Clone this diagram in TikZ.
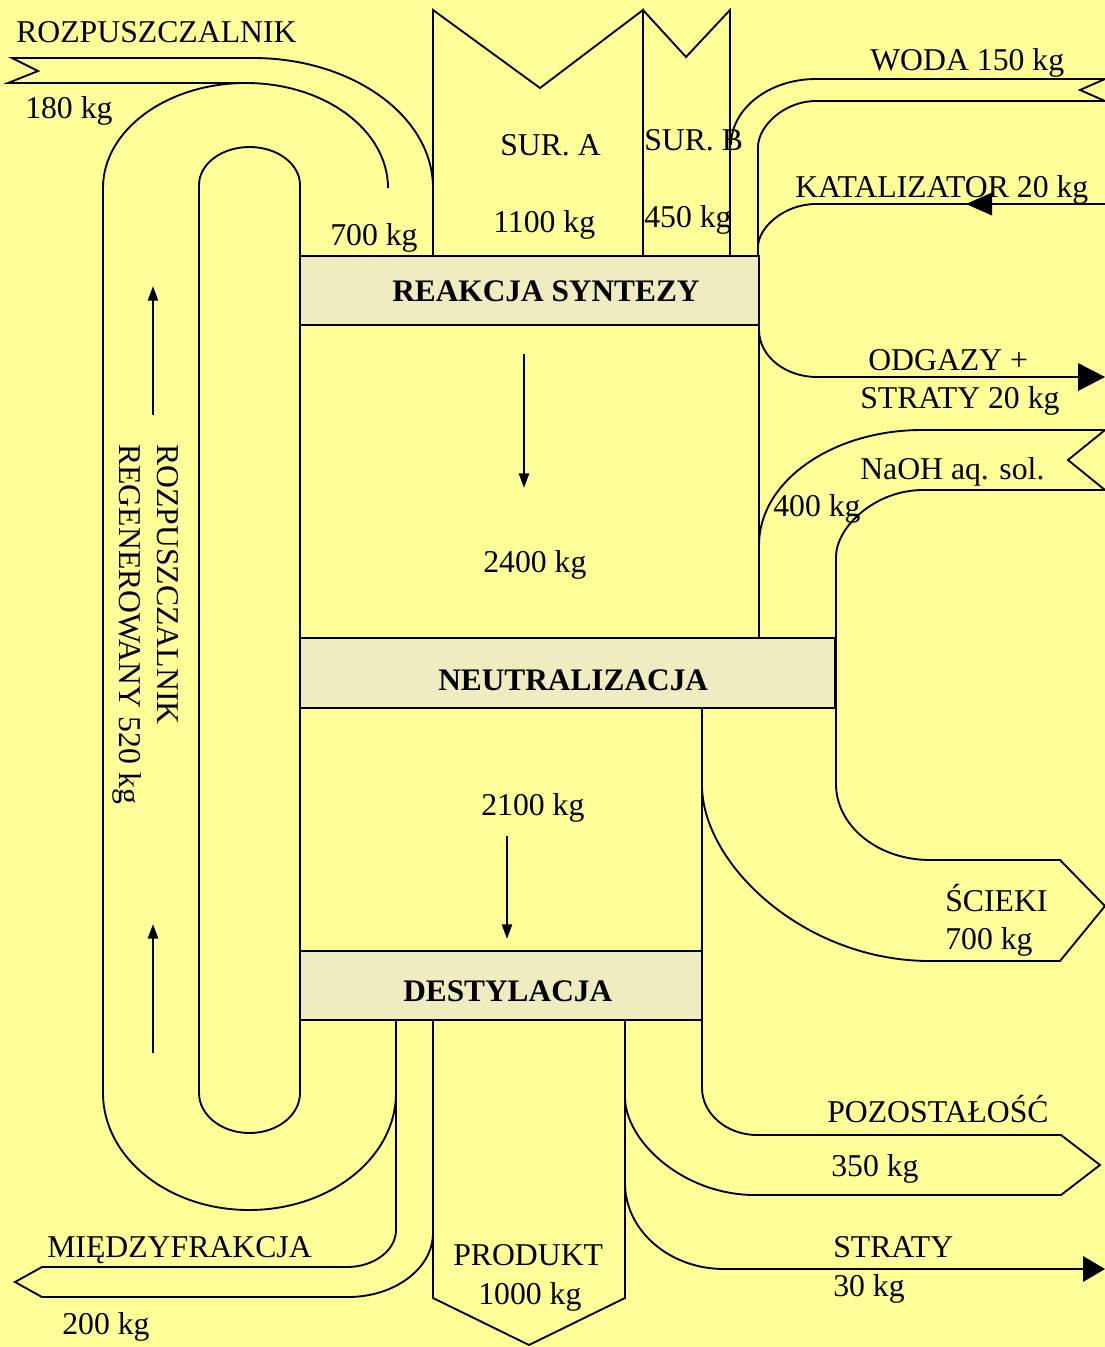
\documentclass[tikz,border=0pt]{standalone}
\usepackage{fontspec}
\setmainfont{Liberation Serif}
\usetikzlibrary{arrows.meta}
\definecolor{bg}{RGB}{255,255,153}
\definecolor{boxfill}{RGB}{238,236,192}
\begin{document}
\begin{tikzpicture}[x=0.75pt,y=-0.75pt,
  flow/.style={line width=1.4pt, line join=miter},
  procbox/.style={draw, line width=1.2pt, fill=boxfill},
  lbl/.style={anchor=base west, inner sep=0pt, font=\fontsize{23.8}{28}\selectfont},
  blbl/.style={anchor=base west, inner sep=0pt, font=\fontsize{23.5}{28}\selectfont\bfseries},
  dirarrow/.style={line width=1.9pt, -{Triangle[length=11pt,width=7.5pt]}},
  tipfill/.style={fill=black}
]
\useasboundingbox (0,0) rectangle (1105,1347);
\fill[bg] (0,0) rectangle (1105,1347);

% regenerated solvent loop (outer)
\draw[flow] (388,188) .. controls (388,130) and (324.4,83) .. (246,83) .. controls (167.1,83) and (103,130) .. (103,188) -- (103,1093) .. controls (103,1157.6) and (168.4,1210) .. (249,1210) .. controls (330.1,1210) and (396,1157.6) .. (396,1093);
% miedzyfrakcja
\draw[flow] (396,1020) -- (396,1230) .. controls (396,1250.4) and (374,1267) .. (347,1267) -- (42,1267) -- (15,1282) -- (42,1297) -- (348,1297) .. controls (394.9,1297) and (433,1268.3) .. (433,1233);
% inner U
\draw[flow] (300,1020) -- (300,1093) .. controls (300,1115.1) and (277.4,1133) .. (249.5,1133) .. controls (221.6,1133) and (199,1115.1) .. (199,1093) -- (199,185) .. controls (199,164) and (221.6,147) .. (249.5,147) .. controls (277.4,147) and (300,164) .. (300,185) -- (300,1020);
% rozpuszczalnik input
\draw[flow] (433,188) .. controls (433,116.2) and (352.4,58) .. (253,58) -- (12,58) -- (38,71) -- (8,83) -- (246,83);
% SUR A, SUR B
\draw[flow] (433,256) -- (433,10) -- (540,88) -- (643,10) -- (643,256);
\draw[flow] (643,10) -- (686,57) -- (730,10) -- (730,256);
% WODA
\draw[flow] (731,145) .. controls (731,108.6) and (769.1,79) .. (816,79) -- (1105,79) -- (1080,90) -- (1105,101) -- (816,101) .. controls (784,101) and (758,126.4) .. (758,147) -- (758,256);
% KATALIZATOR
\draw[flow] (1105,204) -- (816,204) .. controls (784,204) and (758,227.7) .. (758,247);
\fill[tipfill] (966,204) -- (992,192.5) -- (992,215.5) -- cycle;
% ODGAZY
\draw[flow] (759,325) -- (759,330) .. controls (759,356) and (785,377) .. (817,377) -- (1080,377);
\fill[tipfill] (1105,377) -- (1078,363) -- (1078,391) -- cycle;
% right side of 2400 flow and NaOH / SCIEKI
\draw[flow] (759,325) -- (759,638);
\draw[flow] (759,545) .. controls (759,481.5) and (832,430) .. (922,430) -- (1105,430) -- (1068,460) -- (1105,490) -- (923,490) .. controls (875,490) and (836,527) .. (836,557) -- (836,784) .. controls (836,826) and (878,860) .. (930,860) -- (1060,860) -- (1105,906) -- (1060,961) -- (930,961) .. controls (804,961) and (702,864) .. (702,785);
% POZOSTALOSC
\draw[flow] (702,708) -- (702,1088) .. controls (702,1114) and (727,1135) .. (757,1135) -- (1061,1135) -- (1100,1165) -- (1061,1195) -- (755,1195) .. controls (683,1195) and (625,1141) .. (625,1097);
% PRODUKT
\draw[flow] (625,1020) -- (625,1298) -- (529,1345) -- (433,1298) -- (433,1020);
% STRATY
\draw[flow] (625,1183) .. controls (625,1230.5) and (669.4,1269) .. (724,1269) -- (1083,1269);
\fill[tipfill] (1105,1269) -- (1083,1256) -- (1083,1282) -- cycle;

% process boxes
\draw[procbox] (300,256) rectangle (759,325);
\draw[procbox] (300,638) rectangle (835,708);
\draw[procbox] (300,951) rectangle (702,1020);

% direction arrows
\draw[dirarrow] (524,354) -- (524,488);
\draw[dirarrow] (507,836) -- (507,939);
\draw[dirarrow] (153,415) -- (153,286);
\draw[dirarrow] (153,1053) -- (153,924);

% labels
\node[blbl] (reak) at (392,301) {REAKCJA SYNTEZY};
\node[blbl] (neut) at (438,690) {NEUTRALIZACJA};
\node[blbl] (dest) at (403,1001) {DESTYLACJA};

\node[lbl] (rozp) at (16,42) {ROZPUSZCZALNIK};
\node[lbl] (r180) at (25,118) {180 kg};
\node[lbl] (r700) at (330,245) {700 kg};
\node[lbl] (sura) at (500,155) {SUR. A};
\node[lbl] (a1100) at (493,232) {1100 kg};
\node[lbl] (surb) at (644,150) {SUR. B};
\node[lbl] (b450) at (644,227) {450 kg};
\node[lbl] (woda) at (870,70) {WODA 150 kg};
\node[lbl] (kat) at (795,197) {KATALIZATOR 20 kg};
\node[lbl] (odg1) at (868,370) {ODGAZY +};
\node[lbl] (odg2) at (860,408) {STRATY 20 kg};
\node[lbl] (naoh) at (860,479) {NaOH aq. sol.};
\node[lbl] (n400) at (773,516) {400 kg};
\node[lbl] (m2400) at (483,572) {2400 kg};
\node[lbl] (m2100) at (481,815) {2100 kg};
\node[lbl] (sc1) at (945,911) {ŚCIEKI};
\node[lbl] (sc2) at (945,949) {700 kg};
\node[lbl] (poz1) at (827,1122) {POZOSTAŁOŚĆ};
\node[lbl] (poz2) at (831,1176) {350 kg};
\node[lbl] (str1) at (833,1257) {STRATY};
\node[lbl] (str2) at (833,1296) {30 kg};
\node[lbl] (prod1) at (453,1265) {PRODUKT};
\node[lbl] (prod2) at (478,1304) {1000 kg};
\node[lbl] (mie1) at (47,1257) {MIĘDZYFRAKCJA};
\node[lbl] (mie2) at (62,1334) {200 kg};
\node[lbl, rotate=-90] (reg1) at (157,444) {ROZPUSZCZALNIK};
\node[lbl, rotate=-90] (reg2) at (119,444) {REGENEROWANY 520 kg};
\end{tikzpicture}
\end{document}
